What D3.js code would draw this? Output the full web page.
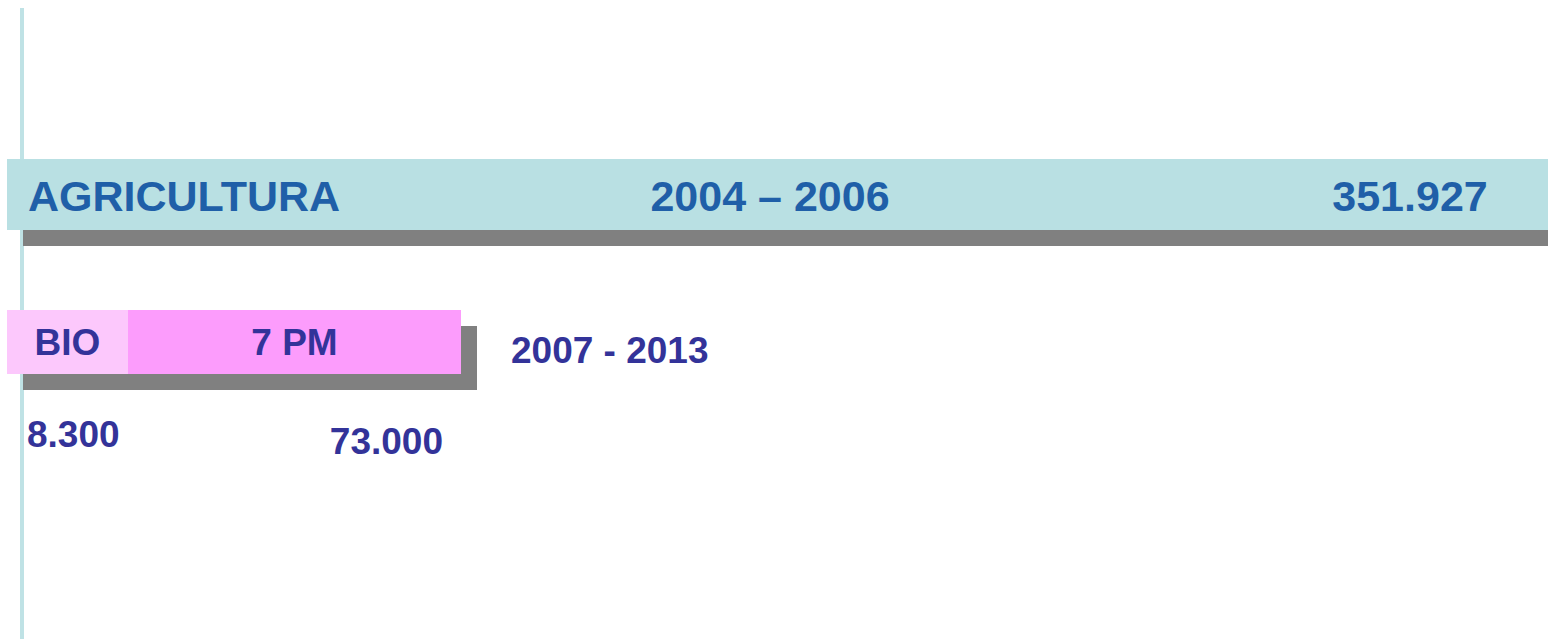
<!DOCTYPE html>
<html>
<head>
<meta charset="utf-8">
<script src="https://cdn.jsdelivr.net/npm/d3@7"></script>
<style>
  html, body { margin: 0; padding: 0; background: #fff; overflow: hidden; }
  text { font-family: "Liberation Sans", Arial, sans-serif; font-weight: bold; }
</style>
</head>
<body>
<script>
// data
var sectors = ["AGRICULTURA"];
var periods = ["2004 – 2006", "2007 - 2013"];
var sectorValues = [351927];
var programmes = ["BIO", "7 PM"];
var programmeValues = [8300, 73000];

//Width and height
var w = 1548;
var h = 639;
var shadow = 16;
var bioBox = 121;   // BIO cell is drawn as a label box, not to scale

var fmt = d3.formatLocale({ decimal: ",", thousands: ".", grouping: [3], currency: ["", "€"] }).format(",d");

//Scale: 7 PM bar sets the unit, the AGRICULTURA bar runs off the right edge
var xScale = d3.scaleLinear()
               .domain([0, 73000])
               .range([0, 333]);

var svg = d3.select("body")
            .append("svg")
            .attr("width", w)
            .attr("height", h);

//vertical guide line
svg.append("rect")
   .attr("x", 20)
   .attr("y", 8)
   .attr("width", 4)
   .attr("height", h - 8)
   .attr("fill", "#bfe2e5");

//AGRICULTURA bar (2004 - 2006)
var x0 = 7;
var topY = 159, topH = 71;
svg.selectAll("rect.aggShadow")
   .data(sectorValues)
   .enter()
   .append("rect")
   .attr("class", "aggShadow")
   .attr("x", x0 + shadow)
   .attr("y", topY + shadow)
   .attr("width", function(d) { return xScale(d); })
   .attr("height", topH)
   .attr("fill", "#808080");

svg.selectAll("rect.agg")
   .data(sectorValues)
   .enter()
   .append("rect")
   .attr("class", "agg")
   .attr("x", x0)
   .attr("y", topY)
   .attr("width", function(d) { return xScale(d); })
   .attr("height", topH)
   .attr("fill", "#b9e0e3");

svg.append("text")
   .attr("x", 28)
   .attr("y", 211)
   .attr("font-size", 43)
   .attr("fill", "#1f5fa8")
   .text(sectors[0]);

svg.append("text")
   .attr("x", 770)
   .attr("y", 211)
   .attr("text-anchor", "middle")
   .attr("font-size", 43)
   .attr("fill", "#1f5fa8")
   .text(periods[0]);

svg.append("text")
   .attr("x", 1410)
   .attr("y", 211)
   .attr("text-anchor", "middle")
   .attr("font-size", 43)
   .attr("fill", "#1f5fa8")
   .text(fmt(sectorValues[0]));

//2007 - 2013 bars
var botY = 310, botH = 64;
var segs = programmes.map(function(p, i) {
    return { name: p, value: programmeValues[i] };
});
segs[0].x = x0;
segs[0].w = Math.max(xScale(segs[0].value), bioBox);
segs[1].x = segs[0].x + segs[0].w;
segs[1].w = xScale(segs[1].value);
var colors = ["#fcc8fc", "#fc9cfc"];

var endX = segs[1].x + segs[1].w;
svg.append("rect")
   .attr("x", x0 + shadow)
   .attr("y", botY + shadow)
   .attr("width", endX - x0)
   .attr("height", botH)
   .attr("fill", "#808080");

svg.selectAll("rect.prog")
   .data(segs)
   .enter()
   .append("rect")
   .attr("class", "prog")
   .attr("x", function(d) { return d.x; })
   .attr("y", botY)
   .attr("width", function(d) { return d.w; })
   .attr("height", botH)
   .attr("fill", function(d, i) { return colors[i]; });

svg.selectAll("text.progName")
   .data(segs)
   .enter()
   .append("text")
   .attr("class", "progName")
   .attr("x", function(d) { return d.x + d.w / 2; })
   .attr("y", 355)
   .attr("text-anchor", "middle")
   .attr("font-size", 37)
   .attr("fill", "#333399")
   .text(function(d) { return d.name; });

svg.append("text")
   .attr("x", 511)
   .attr("y", 363)
   .attr("font-size", 37)
   .attr("fill", "#333399")
   .text(periods[1]);

//value labels under the bars
svg.append("text")
   .attr("x", 27)
   .attr("y", 447)
   .attr("font-size", 37)
   .attr("fill", "#333399")
   .text(fmt(segs[0].value));

svg.append("text")
   .attr("x", endX - 18)
   .attr("y", 454)
   .attr("text-anchor", "end")
   .attr("font-size", 37)
   .attr("fill", "#333399")
   .text(fmt(segs[1].value));
</script>
</body>
</html>
